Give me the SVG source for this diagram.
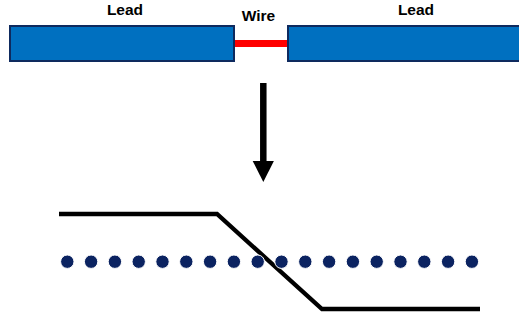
<svg xmlns="http://www.w3.org/2000/svg" width="519" height="320" viewBox="0 0 519 320">
  <style>
    .lead { fill: #0070c0; stroke: #0e2a5e; stroke-width: 2; }
    .label { font-family: "Liberation Sans", Arial, sans-serif; font-weight: bold; font-size: 15.5px; fill: #000; text-anchor: middle; }
    .dot { fill: #0b2361; stroke: #fff; stroke-width: 1; }
  </style>
  <rect width="519" height="320" fill="#fff"/>

  <g id="wire">
    <line x1="234" y1="43.5" x2="289" y2="43.5" stroke="#ff0000" stroke-width="7"/>
    <text class="label" x="258.5" y="21">Wire</text>
  </g>
  <g id="lead-left">
    <rect class="lead" x="10" y="26" width="224" height="35"/>
    <text class="label" x="125" y="14.5">Lead</text>
  </g>
  <g id="lead-right">
    <rect class="lead" x="288" y="26" width="240" height="35"/>
    <text class="label" x="416" y="14.5">Lead</text>
  </g>

  <g id="connectors">
    <line x1="263.3" y1="83" x2="263.3" y2="163" stroke="#000" stroke-width="6.5"/>
    <polygon points="252.7,161 273.9,161 263.3,182" fill="#000"/>
  </g>

  <g id="potential-profile">
    <polyline points="59,214 217,214 322,309 480,309" fill="none" stroke="#000" stroke-width="4.3" stroke-linejoin="miter"/>
  </g>

  <g id="atoms">
    <circle class="dot" cx="67.3" cy="261.7" r="6.7"/>
    <circle class="dot" cx="91.1" cy="261.7" r="6.7"/>
    <circle class="dot" cx="114.9" cy="261.7" r="6.7"/>
    <circle class="dot" cx="138.7" cy="261.7" r="6.7"/>
    <circle class="dot" cx="162.5" cy="261.7" r="6.7"/>
    <circle class="dot" cx="186.3" cy="261.7" r="6.7"/>
    <circle class="dot" cx="210.1" cy="261.7" r="6.7"/>
    <circle class="dot" cx="233.9" cy="261.7" r="6.7"/>
    <circle class="dot" cx="257.7" cy="261.7" r="6.7"/>
    <circle class="dot" cx="281.5" cy="261.7" r="6.7"/>
    <circle class="dot" cx="305.3" cy="261.7" r="6.7"/>
    <circle class="dot" cx="329.1" cy="261.7" r="6.7"/>
    <circle class="dot" cx="352.9" cy="261.7" r="6.7"/>
    <circle class="dot" cx="376.7" cy="261.7" r="6.7"/>
    <circle class="dot" cx="400.5" cy="261.7" r="6.7"/>
    <circle class="dot" cx="424.3" cy="261.7" r="6.7"/>
    <circle class="dot" cx="448.1" cy="261.7" r="6.7"/>
    <circle class="dot" cx="471.9" cy="261.7" r="6.7"/>
  </g>
</svg>
